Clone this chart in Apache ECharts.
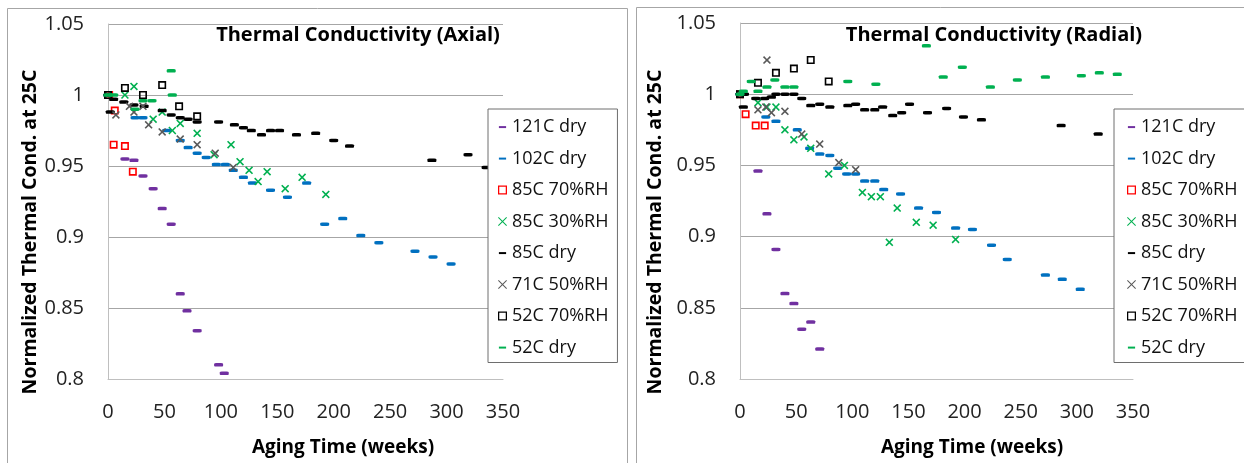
<!DOCTYPE html>
<html>
<head>
<meta charset="utf-8">
<script src="https://cdn.jsdelivr.net/npm/echarts@6/dist/echarts.min.js"></script>
<style>
  html, body { margin: 0; padding: 0; background: #fff; }
  #chart { width: 1244px; height: 463px; }
</style>
</head>
<body>
<div id="chart"></div>
<script>
// 图例名称（两个图共用）
var seriesNames = ['121C dry', '102C dry', '85C 70%RH', '85C 30%RH', '85C dry', '71C 50%RH', '52C 70%RH', '52C dry'];
var xTicks = [0, 50, 100, 150, 200, 250, 300, 350];
var yTicks = [0.8, 0.85, 0.9, 0.95, 1, 1.05];

// Axial: [weeks, normalized conductivity]
var axial121dry = [[0,1],[15,0.955],[23,0.954],[31,0.943],[40,0.934],[48,0.920],[56,0.909],[64,0.860],[70,0.848],[79,0.834],[98,0.810],[103,0.804]];
var axial102dry = [[0,1],[24,0.984],[31,0.984],[52,0.975],[64,0.968],[71,0.963],[79,0.959],[87,0.956],[96,0.951],[104,0.951],[111,0.947],[120,0.942],[128,0.938],[144,0.933],[159,0.928],[176,0.938],[192,0.909],[208,0.913],[224,0.901],[240,0.896],[272,0.890],[288,0.886],[304,0.881]];
var axial85rh70 = [[1,1],[5,0.965],[6,0.989],[15,0.964],[22,0.946]];
var axial85rh30 = [[0,1],[15,1.0],[23,1.006],[40,0.983],[48,0.988],[57,0.975],[64,0.980],[79,0.973],[94,0.958],[109,0.965],[117,0.953],[125,0.947],[133,0.939],[141,0.946],[157,0.934],[172,0.942],[193,0.930]];
var axial85dry = [[0,1],[2,0.988],[5,0.997],[14,0.995],[23,0.993],[32,0.992],[48,0.989],[56,0.986],[64,0.984],[71,0.983],[79,0.981],[98,0.981],[112,0.979],[120,0.977],[127,0.975],[136,0.972],[144,0.975],[152,0.975],[167,0.972],[184,0.973],[200,0.968],[214,0.964],[287,0.954],[319,0.958],[335,0.949]];
var axial71rh50 = [[0,1],[7,0.986],[19,0.992],[23,0.988],[31,0.992],[36,0.979],[48,0.974],[64,0.969],[79,0.965],[95,0.959],[111,0.949]];
var axial52rh70 = [[0,1],[15,1.005],[31,1.0],[48,1.007],[63,0.992],[79,0.985]];
var axial52dry = [[0,1],[5,1.0],[24,0.990],[31,0.996],[39,0.996],[56,1.017],[57,1.0]];

// Radial
var radial121dry = [[0,1],[16,0.946],[24,0.916],[32,0.891],[40,0.860],[48,0.853],[55,0.835],[63,0.840],[71,0.821]];
var radial102dry = [[0,1],[23,0.984],[32,0.981],[51,0.975],[62,0.962],[71,0.958],[80,0.957],[87,0.948],[95,0.944],[103,0.944],[111,0.939],[120,0.939],[128,0.933],[143,0.930],[159,0.920],[175,0.917],[192,0.906],[207,0.905],[224,0.894],[238,0.884],[272,0.873],[287,0.870],[303,0.863]];
var radial85rh70 = [[0,1],[5,0.986],[14,0.978],[22,0.978]];
var radial85rh30 = [[0,1],[16,0.994],[24,0.991],[32,0.991],[40,0.975],[48,0.968],[57,0.970],[63,0.962],[79,0.944],[93,0.950],[109,0.931],[117,0.928],[125,0.928],[133,0.896],[140,0.920],[157,0.910],[172,0.908],[192,0.898]];
var radial85dry = [[0,1],[3,0.991],[4,1.0],[14,0.997],[22,0.997],[28,0.998],[32,1.0],[40,1.0],[48,1.0],[55,0.997],[63,0.992],[71,0.993],[80,0.991],[96,0.992],[103,0.993],[111,0.989],[120,0.989],[127,0.991],[136,0.985],[144,0.987],[151,0.993],[167,0.987],[184,0.990],[199,0.984],[215,0.982],[286,0.978],[319,0.972]];
var radial71rh50 = [[0,1],[16,0.989],[23,0.991],[24,1.024],[28,0.987],[40,0.988],[55,0.972],[71,0.965],[88,0.952],[103,0.947]];
var radial52rh70 = [[0,1],[16,1.008],[32,1.015],[48,1.018],[63,1.024],[79,1.009]];
var radial52dry = [[0,1],[3,1.002],[10,1.009],[16,1.002],[24,1.005],[31,1.010],[40,1.005],[48,1.005],[96,1.009],[121,1.007],[166,1.034],[181,1.012],[198,1.019],[223,1.005],[247,1.010],[272,1.012],[304,1.013],[320,1.015],[336,1.014]];

var axialData = [axial121dry, axial102dry, axial85rh70, axial85rh30, axial85dry, axial71rh50, axial52rh70, axial52dry];
var radialData = [radial121dry, radial102dry, radial85rh70, radial85rh30, radial85dry, radial71rh50, radial52rh70, radial52dry];

var FONT = '"Open Sans", sans-serif';
var DASH = 'roundRect';
var SQUARE = 'path://M0,0L10,0L10,10L0,10Z M2,2L2,8L8,8L8,2Z';
var CROSS = 'path://M0,1.4L1.4,0L5,3.6L8.6,0L10,1.4L6.4,5L10,8.6L8.6,10L5,6.4L1.4,10L0,8.6L3.6,5Z';
var L_DASH = 'path://M0,0M10,10M1,4L9,4L9,6.2L1,6.2Z';
var L_SQUARE = 'path://M0,0L10,0L10,10L0,10Z M1.4,1.4L1.4,8.6L8.6,8.6L8.6,1.4Z';
var L_CROSS = 'path://M0,0.8L0.8,0L5,4.2L9.2,0L10,0.8L5.8,5L10,9.2L9.2,10L5,5.8L0.8,10L0,9.2L4.2,5Z';

var marks = [
    {color: '#7030A0', symbol: DASH, size: [9, 3.5], icon: L_DASH},
    {color: '#0070C0', symbol: DASH, size: [9, 3.5], icon: L_DASH},
    {color: '#FF0000', symbol: SQUARE, size: 8, icon: L_SQUARE},
    {color: '#00B050', symbol: CROSS, size: 8, icon: L_CROSS},
    {color: '#000000', symbol: DASH, size: [9, 3.5], icon: L_DASH},
    {color: '#595959', symbol: CROSS, size: 8, icon: L_CROSS},
    {color: '#000000', symbol: SQUARE, size: 8, icon: L_SQUARE},
    {color: '#00B050', symbol: DASH, size: [9, 3.5], icon: L_DASH}
];

function makeAxes(idx) {
    return {
        x: {
            type: 'value', gridIndex: idx, min: 0, max: 350, interval: 50,
            axisLine: {lineStyle: {color: '#BFBFBF', width: 1}},
            axisTick: {show: false},
            splitLine: {show: false},
            axisLabel: {margin: 23, color: '#222', fontFamily: FONT, fontSize: 20, showMaxLabel: true}
        },
        y: {
            type: 'value', gridIndex: idx, min: 0.8, max: 1.05, interval: 0.05,
            axisLine: {show: true, lineStyle: {color: '#BFBFBF', width: 1}},
            axisTick: {show: false},
            splitLine: {lineStyle: {color: '#A6A6A6', width: 1}},
            axisLabel: {margin: 24, color: '#222', fontFamily: FONT, fontSize: 20}
        }
    };
}

var a0 = makeAxes(0), a1 = makeAxes(1);

var series = [];
[axialData, radialData].forEach(function (set, g) {
    set.forEach(function (d, i) {
        series.push({
            name: seriesNames[i],
            type: 'scatter',
            xAxisIndex: g, yAxisIndex: g,
            data: d,
            symbol: marks[i].symbol,
            symbolSize: marks[i].size,
            itemStyle: {color: marks[i].color, opacity: 1},
            emphasis: {disabled: true},
            z: 2 + i * 0.01
        });
    });
});

var legendData = seriesNames.map(function (n, i) {
    return {name: n, icon: marks[i].icon};
});

function makeLegend(left, pad) {
    return {
        orient: 'vertical', left: left, top: 109,
        data: legendData,
        itemWidth: 9, itemHeight: 9, itemGap: 11.5,
        padding: pad,
        backgroundColor: '#fff',
        borderColor: '#6E6E6E', borderWidth: 1, borderRadius: 0,
        selectedMode: false,
        textStyle: {fontFamily: FONT, fontSize: 18, color: '#111', lineHeight: 20}
    };
}

function txt(x, y, s, size, rot) {
    return {
        type: 'text', x: x, y: y, rotation: rot || 0, silent: true, z: 10,
        style: {text: s, fontFamily: FONT, fontWeight: 'bold', fontSize: size, fill: '#000',
                align: 'center', verticalAlign: 'middle'}
    };
}

var myChart = echarts.init(document.getElementById('chart'));

var option = {
    animation: false,
    backgroundColor: '#fff',
    grid: [
        {left: 108, top: 24, width: 395, height: 355},
        {left: 740, top: 23, width: 393, height: 356}
    ],
    xAxis: [a0.x, a1.x],
    yAxis: [a0.y, a1.y],
    legend: [makeLegend(488, [8, 9, 5, 10]), makeLegend(1114, [8, 30, 5, 13])],
    tooltip: {show: false},
    graphic: [
        {type: 'rect', shape: {x: 7.5, y: 8.5, width: 620, height: 480}, style: {fill: 'none', stroke: '#A6A6A6', lineWidth: 1}, silent: true},
        {type: 'rect', shape: {x: 636.5, y: 7.5, width: 640, height: 480}, style: {fill: 'none', stroke: '#A6A6A6', lineWidth: 1}, silent: true},
        txt(358, 35, 'Thermal Conductivity (Axial)', 20),
        txt(994, 35, 'Thermal Conductivity (Radial)', 20),
        txt(343, 448, 'Aging Time (weeks)', 19),
        txt(972, 448, 'Aging Time (weeks)', 19),
        txt(30, 232, 'Normalized Thermal Cond. at 25C', 19.5, Math.PI / 2),
        txt(655, 232, 'Normalized Thermal Cond. at 25C', 19.5, Math.PI / 2)
    ],
    series: series
};

myChart.setOption(option);
</script>
</body>
</html>
